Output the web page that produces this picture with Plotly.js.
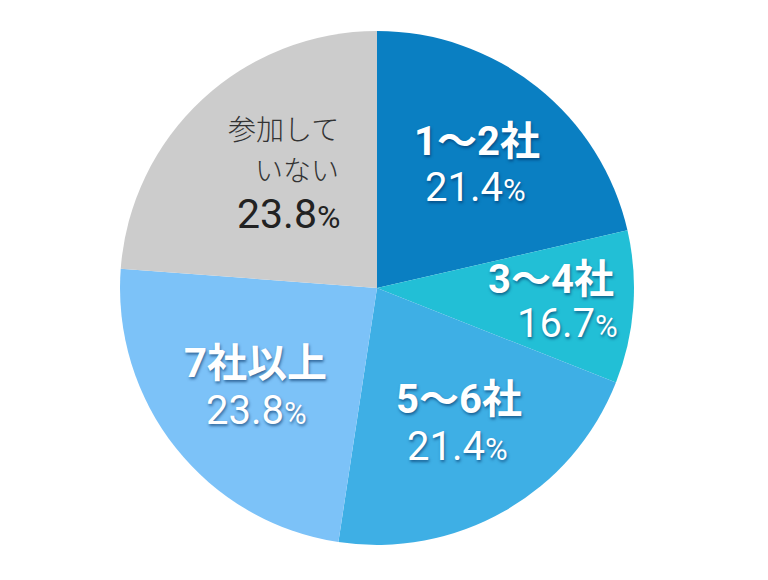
<!DOCTYPE html>
<html>
<head>
<meta charset="utf-8">
<script src="https://cdn.plot.ly/plotly-3.0.1.min.js"></script>
<style>body{margin:0;background:#fff}</style>
</head>
<body>
<div id="chart" style="width:768px;height:580px"></div>
<script>
// Categories (clockwise from 12 o'clock)
const categories = ["1～2社", "3～4社", "5～6社", "7社以上", "参加していない"];
// Angular shares of the slices as drawn in the picture (percent of circle)
const sliceShares = [21.4, 9.6, 21.4, 23.8, 23.8];
// Percentages printed on the chart
const printedPercents = ["21.4", "16.7", "21.4", "23.8", "23.8"];
// Label text lines (name part) for each category
const nameLines = [["1～2社"], ["3～4社"], ["5～6社"], ["7社以上"], ["参加して", "いない"]];
const sliceColors = ["#0a7fc2", "#22bfd6", "#3eafe5", "#7cc2f8", "#cccccc"];

const W = 768, H = 580;
const M = {l: 120, r: 134, t: 31, b: 35};
const pw = W - M.l - M.r, ph = H - M.t - M.b;
const px = x => (x - M.l) / pw;
const py = y => (H - M.b - y) / ph;

const lblFont = "Roboto, 'Noto Sans CJK JP', sans-serif";
const shadow = "1px 2px 3px rgba(0,45,95,0.6)";

// label placement (pixel anchors) – style only
const place = [
  {n: [[477, 141]], p: [475, 187], anchor: "center"},
  {n: [[551, 279]], p: [567, 323], anchor: "center"},
  {n: [[459, 399]], p: [457, 446], anchor: "center"},
  {n: [[255, 364]], p: [256, 410], anchor: "center"},
  {n: [[340, 128], [340, 168.5]], p: [341, 214], anchor: "right"}
];

const annotations = [];
categories.forEach((c, i) => {
  const dark = i === 4;
  const pl = place[i];
  nameLines[i].forEach((line, j) => {
    annotations.push({
      xref: "paper", yref: "paper", x: px(pl.n[j][0]), y: py(pl.n[j][1]),
      xanchor: pl.anchor, yanchor: "middle", showarrow: false,
      borderpad: 0,
      text: dark ? line : "<b>" + line + "</b>",
      font: dark
        ? {family: "'Noto Sans CJK JP', sans-serif", size: 28, color: "#333", weight: 300}
        : {family: lblFont, size: 40, color: "#ffffff", shadow: shadow}
    });
  });
  annotations.push({
    xref: "paper", yref: "paper", x: px(pl.p[0]), y: py(pl.p[1]),
    xanchor: pl.anchor, yanchor: "middle", showarrow: false,
    borderpad: 0,
    text: printedPercents[i] + "<span style='font-size:" + (dark ? 32 : 31) + "px'>%</span>",
    font: dark
      ? {family: lblFont, size: 41, color: "#222222"}
      : {family: lblFont, size: 40, color: "#ffffff", shadow: shadow}
  });
});

Plotly.newPlot("chart", [{
  type: "pie",
  labels: categories,
  values: sliceShares,
  sort: false,
  direction: "clockwise",
  rotation: 0,
  marker: {colors: sliceColors, line: {width: 0}},
  textinfo: "none",
  hoverinfo: "none",
  showlegend: false
}], {
  width: W, height: H,
  margin: M,
  paper_bgcolor: "#ffffff",
  showlegend: false,
  annotations: annotations
}, {staticPlot: true});
</script>
</body>
</html>
